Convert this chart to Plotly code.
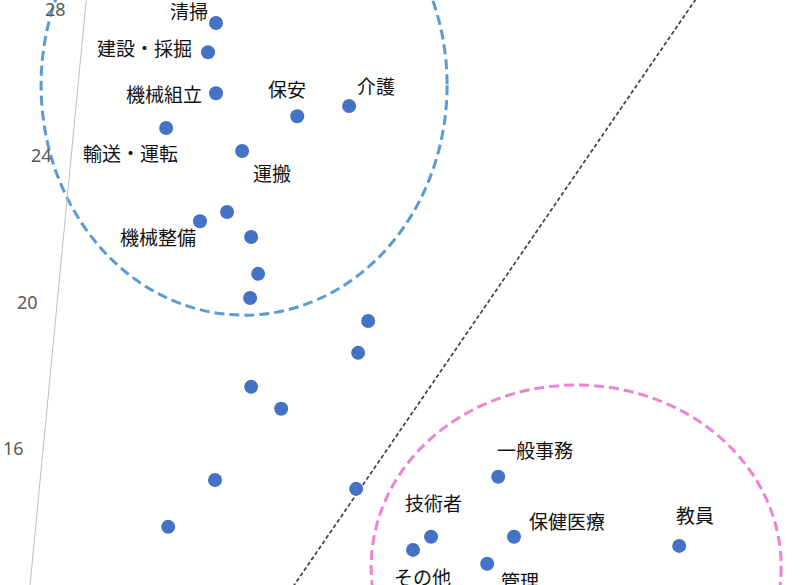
import plotly.graph_objects as go

# occupation scatter (x axis hidden in the original, y axis 16-28)
labels = ['清掃', '建設・採掘', '機械組立', '輸送・運転', '保安', '介護', '運搬', '機械整備',
          '', '', '', '', '', '', '', '', '', '', '',
          '一般事務', '技術者', 'その他', '保健医療', '管理', '教員']
x_vals = [9.13, 8.81, 9.13, 7.14, 12.37, 14.44, 10.17, 8.49,
          9.57, 10.53, 10.81, 10.49, 15.20, 14.80, 10.53, 11.73, 9.09, 14.72, 7.22,
          20.39, 17.71, 16.99, 21.02, 19.95, 27.61]
y_vals = [27.62, 26.82, 25.70, 24.75, 25.07, 25.35, 24.12, 22.20,
          22.45, 21.77, 20.76, 20.10, 19.47, 18.60, 17.67, 17.07, 15.12, 14.88, 13.84,
          15.21, 13.57, 13.21, 13.57, 12.83, 13.32]
tick_vals = [16, 20, 24, 28]
diag_vals = [10, 35]

# label offsets in pixels (dx right, dy down) relative to the marker
label_offset = {
    '清掃': (-27, -13), '建設・採掘': (-64, -5), '機械組立': (-52, 0),
    '輸送・運転': (-36, 25), '保安': (-10, -28), '介護': (27, -21),
    '運搬': (30, 21), '機械整備': (-42, 15), '一般事務': (37, -27),
    '技術者': (2, -34), 'その他': (9, 27), '保健医療': (53, -16),
    '管理': (33, 17), '教員': (16, -31),
}

X_RANGE = [0.51, 32.83]
Y_RANGE = [12.25, 28.25]
AXIS_X = [3.95, 1.71]  # slanted axis line, top and bottom

fig = go.Figure()

fig.add_trace(go.Scatter(
    x=diag_vals, y=diag_vals, mode='lines',
    line=dict(color='#404040', width=1.7, dash='4px,2.5px'),
    hoverinfo='skip', showlegend=False,
))

fig.add_trace(go.Scatter(
    x=x_vals, y=y_vals, mode='markers',
    marker=dict(color='#4472C4', size=14),
    text=labels, showlegend=False,
))

# group ellipses
fig.add_shape(type='circle', xref='x', yref='y', x0=2.15, x1=18.35, y0=19.63, y1=32.21,
              line=dict(color='#5B9BD5', width=3, dash='10px,5px'), layer='below')
fig.add_shape(type='circle', xref='x', yref='y', x0=15.32, x1=31.68, y0=7.77, y1=17.72,
              line=dict(color='#EE82D4', width=3, dash='10px,5px'), layer='below')

# slanted vertical axis
fig.add_shape(type='line', xref='x', yref='y', x0=AXIS_X[0], y0=Y_RANGE[1],
              x1=AXIS_X[1], y1=Y_RANGE[0], line=dict(color='#BFBFBF', width=1))

for t in tick_vals:
    frac = (Y_RANGE[1] - t) / (Y_RANGE[1] - Y_RANGE[0])
    ax = AXIS_X[0] + (AXIS_X[1] - AXIS_X[0]) * frac
    fig.add_annotation(x=ax, y=t, text=str(t), showarrow=False, xshift=-30,
                       xanchor='center', yanchor='middle',
                       font=dict(family='Noto Sans', size=18, color='#595959'))

for lab, xv, yv in zip(labels, x_vals, y_vals):
    if not lab:
        continue
    dx, dy = label_offset[lab]
    fig.add_annotation(x=xv, y=yv, text=lab, showarrow=False, xshift=dx, yshift=-dy,
                       xanchor='center', yanchor='middle',
                       font=dict(family='Noto Sans CJK JP', size=19, color='#111111'))

fig.update_xaxes(range=X_RANGE, visible=False)
fig.update_yaxes(range=Y_RANGE, visible=False)
fig.update_layout(
    width=810, height=585,
    margin=dict(l=0, r=0, t=0, b=0),
    plot_bgcolor='white', paper_bgcolor='white',
)

# drop the default page margin so the chart fills the window
fig.write_html("out.html", config={'displayModeBar': False},
               post_script="document.body.style.margin = '0px';")
